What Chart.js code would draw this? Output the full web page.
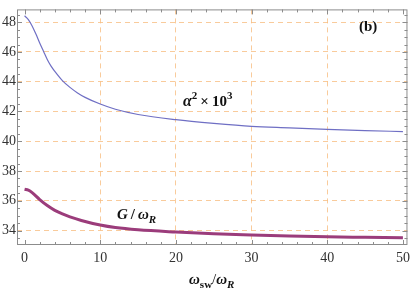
<!DOCTYPE html>
<html>
<head>
<meta charset="utf-8">
<script src="https://cdn.jsdelivr.net/npm/chart.js@4/dist/chart.umd.min.js"></script>
<style>
  body { margin: 0; background: #fff; }
  canvas { display: block; }
</style>
</head>
<body>
<canvas id="graphe" width="415" height="294"></canvas>
<script>
// valeurs
const alphaX = [0, 0.5, 1, 1.5, 2, 2.5, 3, 3.5, 4, 5, 6, 7, 8, 10, 12, 15, 20, 25, 30, 35, 40, 45, 50];
const alphaY = [48.43, 48.18, 47.75, 47.2, 46.6, 46.05, 45.5, 45.05, 44.7, 44.08, 43.62, 43.25, 42.95, 42.5, 42.15, 41.8, 41.45, 41.2, 41.0, 40.9, 40.8, 40.72, 40.65];

const gainX = [0, 0.5, 1, 2, 3, 4, 5, 6, 7.5, 10, 12, 15, 20, 25, 30, 35, 40, 45, 50];
const gainY = [36.78, 36.72, 36.55, 36.08, 35.68, 35.36, 35.12, 34.92, 34.68, 34.37, 34.2, 34.05, 33.9, 33.78, 33.7, 33.63, 33.58, 33.55, 33.52];

const xTicks = [0, 10, 20, 30, 40, 50];
const yTicks = [34, 36, 38, 40, 42, 44, 46, 48];

const serif = "'Liberation Serif', 'DejaVu Serif', serif";
const gridColor = "rgba(248, 190, 130, 0.8)";

function toPoints(xs, ys) {
    return xs.map((x, i) => ({ x: x, y: ys[i] }));
}

// texte en morceaux (indices, exposants)
function drawPieces(ctx, x, y, pieces) {
    ctx.save();
    ctx.textBaseline = "alphabetic";
    ctx.textAlign = "left";
    ctx.fillStyle = "#111";
    pieces.forEach(p => {
        ctx.font = p.font;
        ctx.fillText(p.t, x, y + (p.dy || 0));
        x += ctx.measureText(p.t).width + (p.gap || 0);
    });
    ctx.restore();
}

const framePlugin = {
    id: "cadre",
    afterDraw(chart) {
        const ctx = chart.ctx;
        const a = chart.chartArea;
        const sx = chart.scales.x, sy = chart.scales.y;
        ctx.save();
        ctx.strokeStyle = "#8c8c8c";
        ctx.lineWidth = 1;
        ctx.strokeRect(a.left + 0.5, a.top + 0.5, a.right - a.left - 1, a.bottom - a.top - 1);
        ctx.beginPath();
        for (let v = 0; v <= 50; v += 2) {
            const len = v % 10 === 0 ? 5 : 3;
            const px = Math.round(sx.getPixelForValue(v)) + 0.5;
            ctx.moveTo(px, a.bottom); ctx.lineTo(px, a.bottom - len);
            ctx.moveTo(px, a.top); ctx.lineTo(px, a.top + len);
        }
        for (let v = 33.5; v <= 48.5; v += 0.5) {
            const len = v % 2 === 0 ? 5 : 3;
            const py = Math.round(sy.getPixelForValue(v)) + 0.5;
            ctx.moveTo(a.left, py); ctx.lineTo(a.left + len, py);
            ctx.moveTo(a.right, py); ctx.lineTo(a.right - len, py);
        }
        ctx.stroke();
        ctx.restore();

        // étiquettes
        drawPieces(ctx, 359, 31, [{ t: "(b)", font: "bold 15px " + serif }]);
        drawPieces(ctx, 183, 106, [
            { t: "α", font: "italic bold 16px " + serif },
            { t: "2", font: "bold 11px " + serif, dy: -7, gap: 3 },
            { t: "×", font: "bold 15px " + serif, gap: 3 },
            { t: "10", font: "bold 15px " + serif },
            { t: "3", font: "bold 11px " + serif, dy: -7 }
        ]);
        drawPieces(ctx, 117, 219, [
            { t: "G", font: "italic bold 15px " + serif, gap: 3 },
            { t: "/", font: "bold 15px " + serif, gap: 3 },
            { t: "ω", font: "italic bold 15px " + serif },
            { t: "R", font: "italic bold 11px " + serif, dy: 4 }
        ]);
        drawPieces(ctx, 189, 284, [
            { t: "ω", font: "italic bold 15px " + serif },
            { t: "sw", font: "bold 11px " + serif, dy: 4 },
            { t: "/", font: "15px " + serif },
            { t: "ω", font: "italic bold 15px " + serif },
            { t: "R", font: "italic bold 11px " + serif, dy: 4 }
        ]);
    }
};

const ctx = document.getElementById("graphe").getContext("2d");
new Chart(ctx, {
    type: "line",
    data: {
        datasets: [{
            label: "alpha",
            data: toPoints(alphaX, alphaY),
            borderColor: "#6f6fc4",
            borderWidth: 1.2,
            pointRadius: 0,
            cubicInterpolationMode: "monotone",
            fill: false
        }, {
            label: "G",
            data: toPoints(gainX, gainY),
            borderColor: "#9b3c7b",
            borderWidth: 3,
            pointRadius: 0,
            cubicInterpolationMode: "monotone",
            fill: false
        }]
    },
    options: {
        responsive: false,
        animation: false,
        layout: { padding: { top: 0, right: 7, left: 0, bottom: 0 } },
        plugins: {
            legend: { display: false },
            tooltip: { enabled: false }
        },
        scales: {
            x: {
                type: "linear",
                min: -1,
                max: 50.6,
                afterFit: s => { s.height = 49; },
                afterBuildTicks: s => { s.ticks = xTicks.map(v => ({ value: v })); },
                ticks: {
                    font: { family: serif, size: 14 },
                    color: "#333",
                    padding: 5,
                    maxRotation: 0
                },
                grid: {
                    drawTicks: false,
                    color: c => (c.tick && (c.tick.value === 0 || c.tick.value === 50)) ? "rgba(0,0,0,0)" : gridColor
                },
                border: { display: false, dash: [5, 4] }
            },
            y: {
                type: "linear",
                min: 33.03,
                max: 48.86,
                afterFit: s => { s.width = 17; },
                afterBuildTicks: s => { s.ticks = yTicks.map(v => ({ value: v })); },
                ticks: {
                    font: { family: serif, size: 14 },
                    color: "#333",
                    padding: 1
                },
                grid: { drawTicks: false, color: gridColor },
                border: { display: false, dash: [5, 4] }
            }
        }
    },
    plugins: [framePlugin]
});
</script>
</body>
</html>
